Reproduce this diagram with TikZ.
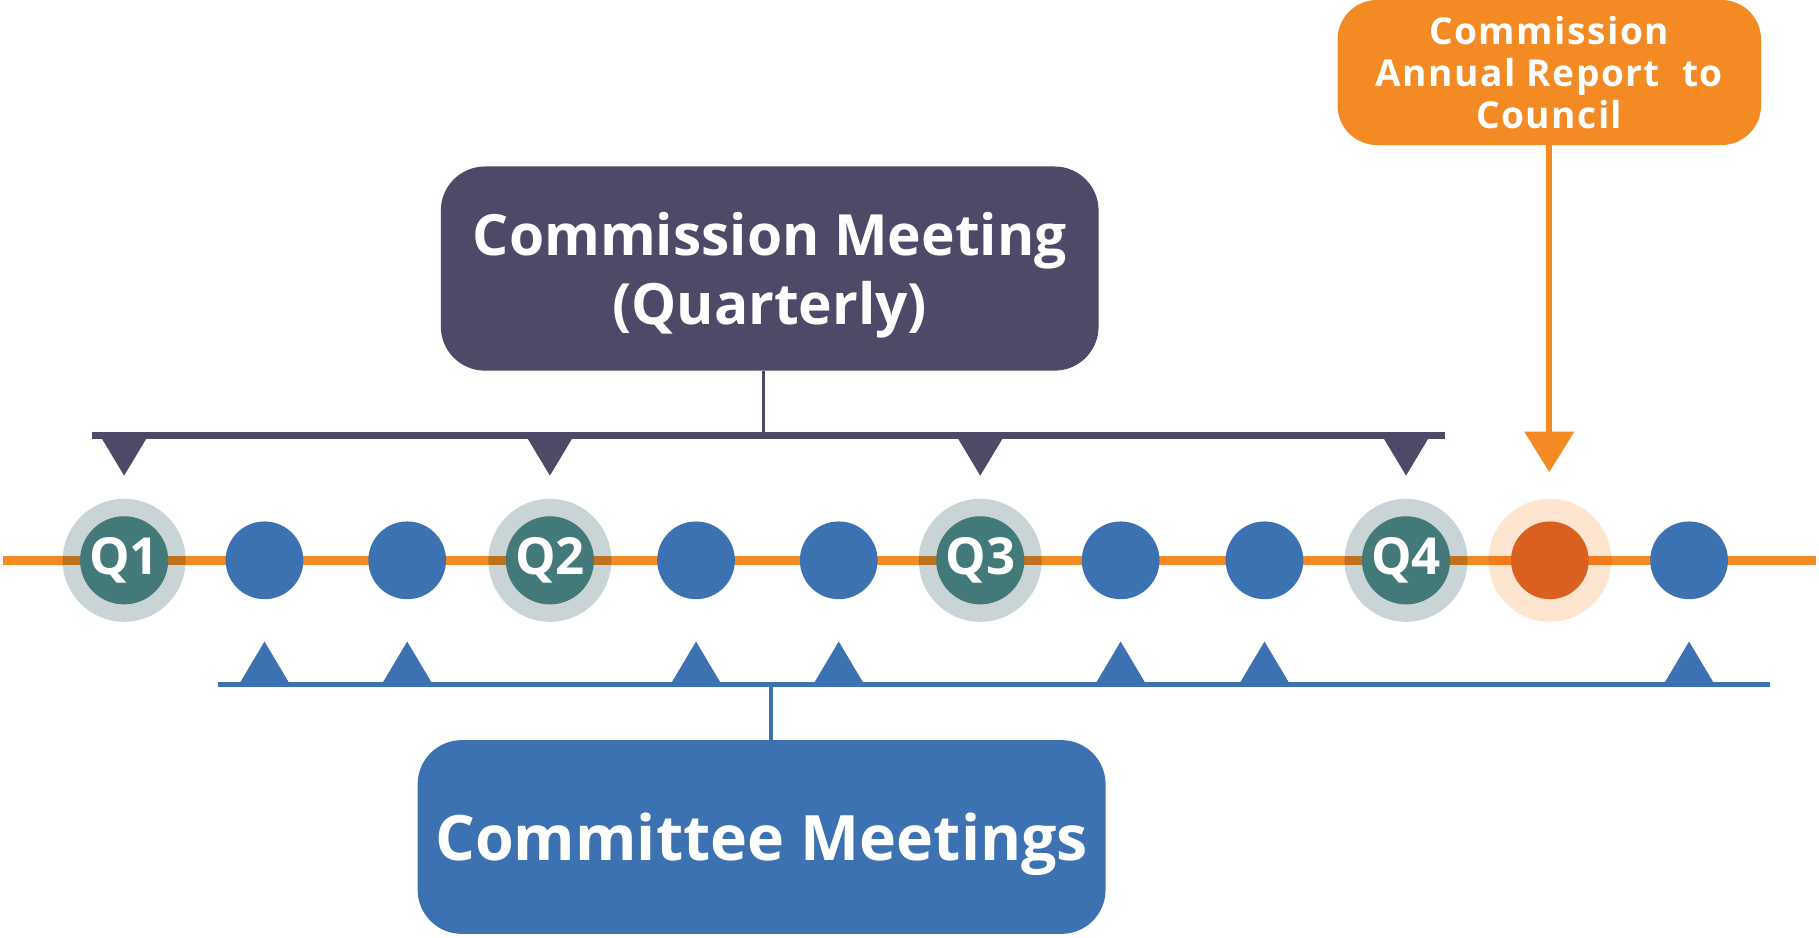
\documentclass[tikz,border=0pt]{standalone}
\usepackage{fontspec}
\setmainfont{Open Sans}
\newfontfamily\spacedfont[LetterSpace=4]{Open Sans}
\usetikzlibrary{positioning,arrows.meta}

\definecolor{cpurple}{HTML}{4D4A68}
\definecolor{cblue}{HTML}{3C72B1}
\definecolor{qteal}{HTML}{44797A}
\definecolor{rgrey}{HTML}{C9D4D6}
\definecolor{lorange}{HTML}{F38A24}
\definecolor{rorange}{HTML}{D9601E}
\definecolor{rpeach}{HTML}{FDE5CF}

\begin{document}
\begin{tikzpicture}[x=0.5pt,y=-0.5pt,
    every node/.style={inner sep=0pt},
    quarter/.style={circle,fill=qteal,minimum size=38pt,text=white,
      font=\bfseries\fontsize{22}{22}\selectfont},
    meeting/.style={circle,fill=cblue,minimum size=33.5pt},
    report/.style={circle,fill=rorange,minimum size=33.5pt},
    halo/.style={circle,minimum size=53pt},
    bigbox/.style={rounded corners=19pt,text=white,align=center,text depth=0pt}]

  \useasboundingbox[fill=white] (0,0) rectangle (1568,808);

  % timeline
  \coordinate (tl) at (3,483);
  \coordinate (tr) at (1565,483);
  \draw[lorange,line width=4pt] (tl) -- (tr);

  \begin{scope}[blend mode=multiply]
    \foreach \n/\x in {h1/107,h2/474,h3/845,h4/1212}
      \node[halo,fill=rgrey] (\n) at (\x,483) {};
    \node[halo,fill=rpeach] (h5) at (1336,483) {};
  \end{scope}

  \foreach \n/\x in {1/107,2/474,3/845,4/1212}
    \node[quarter] (q\n) at (\x,483) {Q\n};
  \foreach \n/\x in {c1/228,c2/351,c3/600,c4/723,c5/966,c6/1090,c7/1456}
    \node[meeting] (\n) at (\x,483) {};
  \node[report] (rep) at (1336,483) {};

  % commission meeting
  \node[bigbox,fill=cpurple,minimum width=283.5pt,minimum height=88pt,
    font=\bfseries\fontsize{24.5}{30}\selectfont] (cm) at (663.5,231.5)
    {Commission Meeting\\(Quarterly)};
  \coordinate (qbl) at (79,375);
  \coordinate (qbr) at (1246,375);
  \draw[cpurple,line width=3pt] (qbl) -- (qbr);
  \draw[cpurple,line width=1.5pt] ([xshift=-2.75pt]cm.south) -- ([xshift=-2.75pt]cm.south |- qbl);
  \foreach \n in {q1,q2,q3,q4}
    \fill[cpurple] (\n |- qbl) ++(-21,0) -- ++(42,0) -- ++(-21,35) -- cycle;

  % committee meetings
  \node[bigbox,fill=cblue,minimum width=296.5pt,minimum height=83.5pt,
    font=\bfseries\fontsize{27}{30}\selectfont] (cmt) at (656.5,721.5)
    {Committee Meetings};
  \coordinate (mbl) at (188,590);
  \coordinate (mbr) at (1526,590);
  \draw[cblue,line width=2.5pt] (mbl) -- (mbr);
  \draw[cblue,line width=1.5pt] ([xshift=4pt]cmt.north) -- ([xshift=4pt]cmt.north |- mbl);
  \foreach \n in {c1,c2,c3,c4,c5,c6,c7}
    \fill[cblue] (\n |- mbl) ++(-22,0) -- ++(44,0) -- ++(-22,-37) -- cycle;

  % annual report
  \node[bigbox,rounded corners=17pt,fill=lorange,minimum width=182.5pt,minimum height=62.5pt,
    font=\spacedfont\bfseries\fontsize{16}{18}\selectfont] (ar) at (1335.5,62.5)
    {Commission\\Annual Report\ \ to\\Council};
  \coordinate (arr) at (0,407);
  \draw[lorange,line width=2.5pt,-{Triangle[width=21pt,length=17.5pt]}]
    (ar.south) -- (ar.south |- arr);
\end{tikzpicture}
\end{document}
